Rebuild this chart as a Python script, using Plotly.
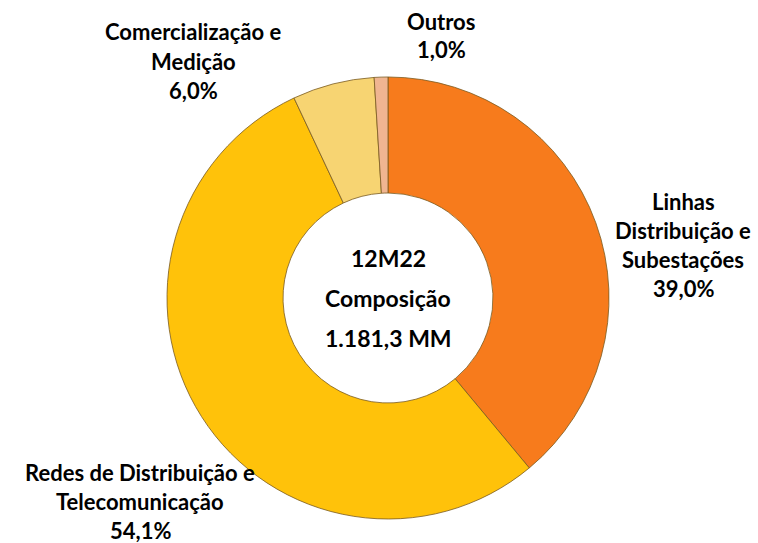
import plotly.graph_objects as go

categories = ["Linhas Distribuição e Subestações", "Redes de Distribuição e Telecomunicação",
              "Comercialização e Medição", "Outros"]
values = [39.0, 54.1, 6.0, 1.0]
value_labels = ["39,0%", "54,1%", "6,0%", "1,0%"]
label_lines = [
    ["Linhas", "Distribuição e", "Subestações"],
    ["Redes de Distribuição e", "Telecomunicação"],
    ["Comercialização e", "Medição"],
    ["Outros"],
]
center_lines = ["12M22", "Composição", "1.181,3 MM"]

colors = ["#F77B1C", "#FFC20A", "#F7D472", "#F0B591"]

W, H = 758, 543
cx, cy, R = 388, 298, 221

fig = go.Figure(go.Pie(
    labels=categories, values=values, hole=0.475, sort=False,
    direction="clockwise", rotation=0,
    marker=dict(colors=colors, line=dict(color="#7a5a20", width=0.8)),
    textinfo="none", hoverinfo="label+percent", showlegend=False,
    domain=dict(x=[(cx - R) / W, (cx + R) / W], y=[(H - cy - R) / H, (H - cy + R) / H]),
))

font = dict(family="Lato, Carlito, 'Open Sans', sans-serif", size=22, color="#000000")

# label anchor positions (centre x, first-line y in px), spacing in px
label_pos = [(683, 201), (140, 472), (193, 32), (441, 21)]
spacing = 29

annotations = []
for lines, val, (x, y0) in zip(label_lines, value_labels, label_pos):
    for i, t in enumerate(lines + [val]):
        annotations.append(dict(
            x=x / W, y=1 - (y0 + i * spacing) / H, xref="paper", yref="paper",
            text="<b>" + t + "</b>", showarrow=False, font=font,
            xanchor="center", yanchor="middle"))

for i, t in enumerate(center_lines):
    annotations.append(dict(
        x=cx / W, y=1 - (258 + i * 40) / H, xref="paper", yref="paper",
        text="<b>" + t + "</b>", showarrow=False,
        font=dict(family="Lato, Carlito, 'Open Sans', sans-serif", size=23, color="#000000"),
        xanchor="center", yanchor="middle"))

fig.update_layout(
    width=W, height=H, margin=dict(l=0, r=0, t=0, b=0),
    paper_bgcolor="white", plot_bgcolor="white",
    annotations=annotations,
)

fig.write_html("out.html", config={"displayModeBar": False},
               post_script="document.body.style.margin='0';document.body.style.overflow='hidden';")
